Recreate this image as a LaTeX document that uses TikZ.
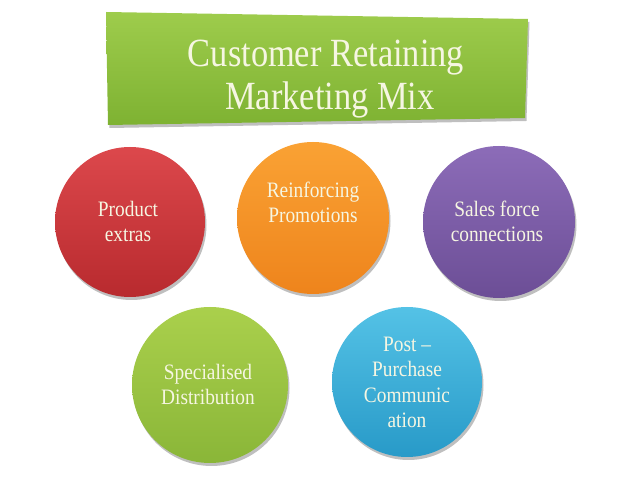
\documentclass[tikz,border=0pt]{standalone}
\usepackage{fontspec}
\setmainfont{Liberation Serif}
\usetikzlibrary{shadows}
\definecolor{txt}{RGB}{246,246,226}
\definecolor{redT}{RGB}{220,72,76}\definecolor{redB}{RGB}{184,42,46}
\definecolor{orgT}{RGB}{250,162,52}\definecolor{orgB}{RGB}{238,132,28}
\definecolor{purT}{RGB}{140,108,184}\definecolor{purB}{RGB}{108,78,150}
\definecolor{grnT}{RGB}{170,208,76}\definecolor{grnB}{RGB}{138,182,56}
\definecolor{bluT}{RGB}{84,194,230}\definecolor{bluB}{RGB}{40,154,200}
\definecolor{titT}{RGB}{158,204,76}\definecolor{titM}{RGB}{143,192,60}\definecolor{titB}{RGB}{126,178,50}
\tikzset{
  disc/.style={circle, inner sep=0pt, minimum size=#1,
    drop shadow={shadow xshift=1.5pt, shadow yshift=-3pt, opacity=0.25, fill=black}},
  lbl/.style={anchor=base, align=center, text=txt, inner sep=0pt,
    font=\fontsize{22}{25.5}\selectfont, xscale=0.88, transform shape},
  ttl/.style={anchor=base, text=txt, inner sep=0pt,
    font=\fontsize{40}{43}\selectfont, xscale=0.86, transform shape}
}
\begin{document}
\begin{tikzpicture}[x=1pt,y=1pt]
\useasboundingbox[fill=white] (0,0) rectangle (638,479);
% title box
\coordinate (tl) at (106,467);
\coordinate (tr) at (528,460);
\coordinate (br) at (525,361);
\coordinate (bl) at (108,354);
\shade[top color=titT, middle color=titM, bottom color=titB,
  drop shadow={shadow xshift=1.5pt, shadow yshift=-3pt, opacity=0.25, fill=black}]
  (tl) -- (tr) -- (br) -- (bl) -- cycle;
\node[ttl] (t1) at (326,412) {Customer Retaining};
\node[ttl] (t2) at (330,369) {Marketing Mix};
% circles
\node[disc=150pt, top color=redT, bottom color=redB] (c1) at (130,257) {};
\node[disc=152pt, top color=orgT, bottom color=orgB] (c2) at (313,261) {};
\node[disc=152pt, top color=purT, bottom color=purB] (c3) at (499,257) {};
\node[disc=156pt, top color=grnT, bottom color=grnB] (c4) at (210,94) {};
\node[disc=150pt, top color=bluT, bottom color=bluB] (c5) at (407,97) {};
% labels (base = last line)
\node[lbl] (l1) at (128,237) {Product\\extras};
\node[lbl] (l2) at (313,256) {Reinforcing\\Promotions};
\node[lbl] (l3) at (497,237) {Sales force\\connections};
\node[lbl] (l4) at (208,74) {Specialised\\Distribution};
\node[lbl] (l5) at (407,51) {Post –\\Purchase\\Communic\\ation};
\end{tikzpicture}
\end{document}
